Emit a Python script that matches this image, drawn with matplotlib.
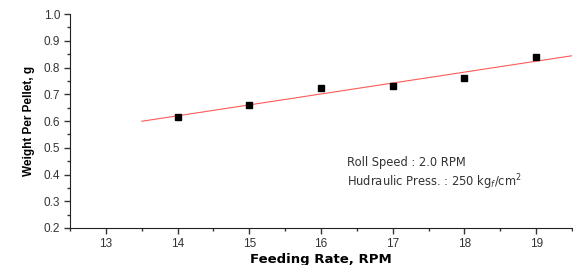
import numpy as np
import matplotlib.pyplot as plt
from matplotlib.ticker import MultipleLocator

feed_rate = [14, 15, 16, 17, 18, 19]
weight = [0.616, 0.659, 0.722, 0.732, 0.762, 0.838]
fit_range = [13.5, 19.5]

plt.rcParams['font.family'] = ['Liberation Sans', 'DejaVu Sans']

fig = plt.figure(figsize=(5.73, 2.65), dpi=100)
ax = fig.add_axes([70 / 573, 1 - 228 / 265, 502 / 573, 214 / 265])

slope, icpt = np.polyfit(feed_rate, weight, 1)
xf = np.array(fit_range)
ax.plot(xf, slope * xf + icpt, color='#ff5a5a', lw=0.8)
ax.plot(feed_rate, weight, 's', color='black', markersize=4.5)

ax.set_xlim(12.5, 19.5)
ax.set_ylim(0.2, 1.0)
ax.xaxis.set_minor_locator(MultipleLocator(0.5))
ax.yaxis.set_minor_locator(MultipleLocator(0.05))
ax.tick_params(which='major', length=4, width=1, labelsize=8.5, colors='#333333', pad=3)
ax.tick_params(which='minor', length=2.5, width=1, colors='#333333')
ax.set_xticks([13, 14, 15, 16, 17, 18, 19])
ax.set_yticks(np.arange(0.2, 1.01, 0.1))
ax.yaxis.set_major_formatter(plt.FormatStrFormatter('%.1f'))

ax.spines['top'].set_visible(False)
ax.spines['right'].set_visible(False)
ax.spines['left'].set_color('#222222')
ax.spines['bottom'].set_color('#222222')

ax.set_xlabel('Feeding Rate, RPM', fontsize=9.5, fontweight='bold', labelpad=2,
              family=['DejaVu Sans'])
ax.set_ylabel('Weight Per Pellet, g', fontsize=8.5, fontweight='bold', labelpad=6)

ax.text(16.36, 0.445, 'Roll Speed : 2.0 RPM', fontsize=8.3, color='#333333',
        va='center', family=['DejaVu Sans'])
ax.text(16.36, 0.372, r'Hudraulic Press. : 250 kg$_f$/cm$^2$', fontsize=8.3,
        color='#333333', va='center', family=['DejaVu Sans'])

fig.savefig('out.png', dpi=100)
